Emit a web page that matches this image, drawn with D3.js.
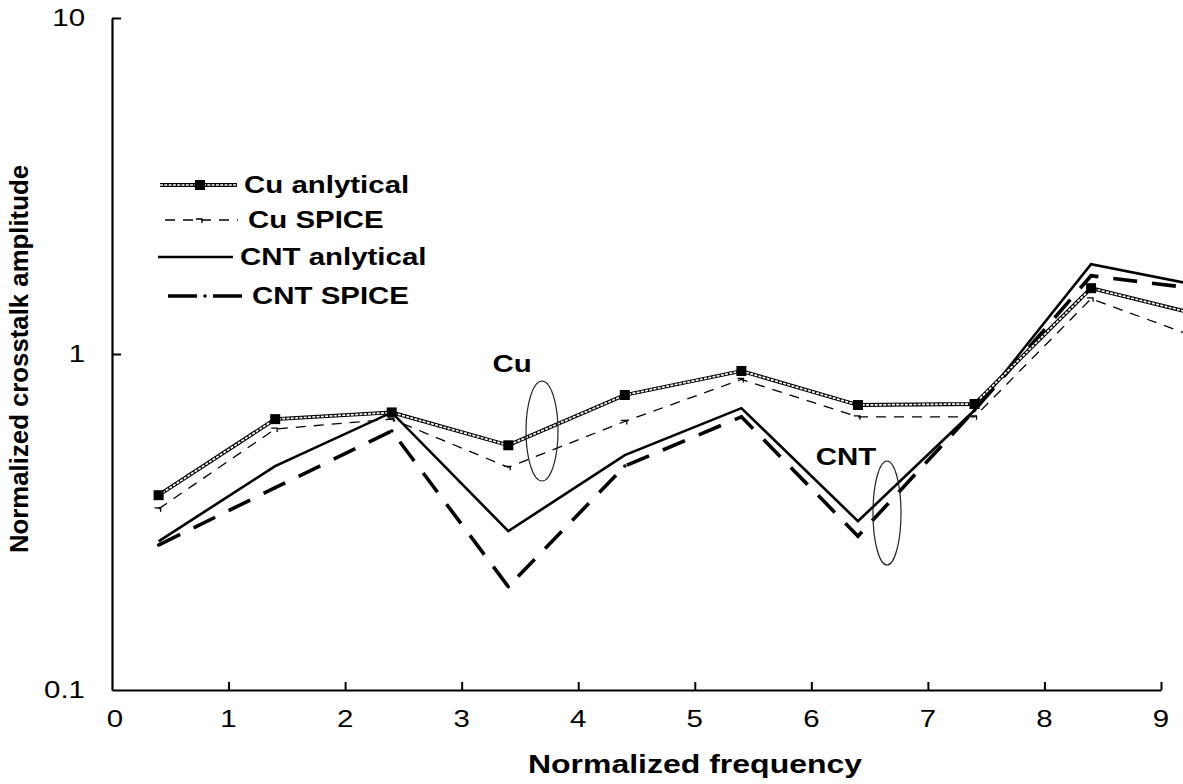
<!DOCTYPE html>
<html>
<head>
<meta charset="utf-8">
<script src="https://cdn.jsdelivr.net/npm/d3@7"></script>
<style>
  html, body { margin: 0; padding: 0; background: #fff; }
  svg { display: block; font-family: "Liberation Sans", Arial, sans-serif; }
</style>
</head>
<body>
<svg id="chart" width="1183" height="784"></svg>
<script>
// Normalized frequency of each sample point
const freq = [0.4, 1.4, 2.4, 3.4, 4.4, 5.4, 6.4, 7.4, 8.4, 9.4];

// Normalized crosstalk amplitude per series
const cuAnalytical  = [0.38, 0.64, 0.67, 0.535, 0.755, 0.89, 0.705, 0.71, 1.57, 1.29];
const cuSpice       = [0.346, 0.598, 0.64, 0.46, 0.63, 0.84, 0.65, 0.65, 1.46, 1.09];
const cntAnalytical = [0.277, 0.464, 0.67, 0.297, 0.50, 0.69, 0.318, 0.68, 1.85, 1.58];
const cntSpice      = [0.27, 0.40, 0.59, 0.203, 0.464, 0.65, 0.287, 0.68, 1.71, 1.55];

const seriesNames = ["Cu anlytical", "Cu SPICE", "CNT anlytical", "CNT SPICE"];
const xTickValues = [0, 1, 2, 3, 4, 5, 6, 7, 8, 9];
const yTickValues = [0.1, 1, 10];
const yTickLabels = ["0.1", "1", "10"];
const xTitle = "Normalized frequency";
const yTitle = "Normalized crosstalk amplitude";
const groupLabels = ["Cu", "CNT"];

const svg = d3.select("#chart");
const STRETCH = 1.28; // wide lettering

const x = d3.scaleLinear().domain([0, 9]).range([112, 1161]);
const y = d3.scaleLog().domain([0.1, 10]).range([690, 18]);

// Horizontally widened text placed at (px, py)
function wideText(px, py, str, opts) {
  const g = svg.append("g")
    .attr("transform", `translate(${px},${py}) scale(${STRETCH},1)`);
  g.append("text")
    .attr("x", 0).attr("y", 0)
    .attr("text-anchor", opts.anchor || "start")
    .attr("font-size", opts.size)
    .attr("font-weight", opts.weight || "normal")
    .attr("fill", "#000")
    .text(str);
  return g;
}

// ---- axes ----
const xAxis = d3.axisBottom(x).tickValues(xTickValues.slice(1)).tickSize(-8).tickSizeOuter(0).tickFormat("");
const yAxis = d3.axisLeft(y).tickValues(yTickValues.slice(1)).tickSize(-9).tickSizeOuter(0).tickFormat("");

const gx = svg.append("g").attr("transform", "translate(0,690)").call(xAxis);
const gy = svg.append("g").attr("transform", "translate(112,0)").call(yAxis);
[gx, gy].forEach(g => {
  g.select(".domain").attr("stroke", "#000").attr("stroke-width", 2.2);
  g.selectAll(".tick line").attr("stroke", "#000").attr("stroke-width", 2);
});

xTickValues.forEach(v => wideText(x(v) + (v === 0 ? 3 : 0), 727, String(v), { anchor: "middle", size: 23 }));
yTickValues.forEach((v, i) => wideText(85, y(v) + 8, yTickLabels[i], { anchor: "end", size: 23 }));

wideText(695, 773, xTitle, { anchor: "middle", size: 25, weight: "bold" });
svg.append("text")
  .attr("transform", "translate(28,359) rotate(-90)")
  .attr("text-anchor", "middle")
  .attr("font-size", 25)
  .attr("font-weight", "bold")
  .attr("textLength", 388)
  .attr("lengthAdjust", "spacingAndGlyphs")
  .text(yTitle);

// ---- series styles ----
const line = d3.line().x((d, i) => x(freq[i])).y(d => y(d));

function chainPath(sel, dAttr) {
  sel.append("path").attr("d", dAttr).attr("fill", "none")
    .attr("stroke", "#000").attr("stroke-width", 3.8).attr("stroke-linejoin", "round");
  sel.append("path").attr("d", dAttr).attr("fill", "none")
    .attr("stroke", "#fff").attr("stroke-width", 1.7).attr("stroke-dasharray", "3,1.3");
}

const plot = svg.append("g");

// CNT SPICE: heavy dashes
plot.append("path").attr("d", line(cntSpice)).attr("fill", "none")
  .attr("stroke", "#000").attr("stroke-width", 3.6).attr("stroke-dasharray", "24,15");
plot.selectAll(".cntSpiceDot").data(cntSpice).join("circle")
  .attr("cx", (d, i) => x(freq[i])).attr("cy", d => y(d)).attr("r", 1.8).attr("fill", "#000");

// CNT analytical: solid
plot.append("path").attr("d", line(cntAnalytical)).attr("fill", "none")
  .attr("stroke", "#000").attr("stroke-width", 2.6).attr("stroke-linejoin", "miter");

// Cu SPICE: thin dashes with small hooked markers
plot.append("path").attr("d", line(cuSpice)).attr("fill", "none")
  .attr("stroke", "#000").attr("stroke-width", 1.3).attr("stroke-dasharray", "10,8");
plot.selectAll(".cuSpiceMark").data(cuSpice).join("path")
  .attr("transform", (d, i) => `translate(${x(freq[i])},${y(d)})`)
  .attr("d", "M-4,-1 H2 V3").attr("fill", "none").attr("stroke", "#000").attr("stroke-width", 1.3);

// Cu analytical: chain line with square markers
const cuG = plot.append("g");
chainPath(cuG, line(cuAnalytical));
cuG.selectAll("rect").data(cuAnalytical).join("rect")
  .attr("x", (d, i) => x(freq[i]) - 5).attr("y", d => y(d) - 5)
  .attr("width", 10).attr("height", 10).attr("fill", "#000");

// ---- group annotations ----
wideText(512, 372, groupLabels[0], { anchor: "middle", size: 23, weight: "bold" });
svg.append("ellipse").attr("cx", 542).attr("cy", 431).attr("rx", 16).attr("ry", 50)
  .attr("fill", "none").attr("stroke", "#222").attr("stroke-width", 1.2);
wideText(846, 465, groupLabels[1], { anchor: "middle", size: 23, weight: "bold" });
svg.append("ellipse").attr("cx", 887).attr("cy", 513).attr("rx", 14).attr("ry", 52)
  .attr("fill", "none").attr("stroke", "#222").attr("stroke-width", 1.2);

// ---- legend ----
const legendRows = [185, 220, 257, 296];
const lg = svg.append("g");
// Cu analytical sample
chainPath(lg, `M160,${legendRows[0]} H237`);
lg.append("rect").attr("x", 195).attr("y", legendRows[0] - 5).attr("width", 10).attr("height", 10).attr("fill", "#000");
// Cu SPICE sample
lg.append("path").attr("d", `M165,${legendRows[1]} H238`).attr("stroke", "#000")
  .attr("stroke-width", 1.3).attr("stroke-dasharray", "10,8");
lg.append("path").attr("transform", `translate(200,${legendRows[1]})`)
  .attr("d", "M-4,-1 H2 V3").attr("fill", "none").attr("stroke", "#000").attr("stroke-width", 1.3);
// CNT analytical sample
lg.append("path").attr("d", `M158,${legendRows[2]} H233`).attr("stroke", "#000").attr("stroke-width", 2.6);
// CNT SPICE sample
lg.append("path").attr("d", `M168,${legendRows[3]} H242`).attr("stroke", "#000")
  .attr("stroke-width", 3.6).attr("stroke-dasharray", "29,16");
lg.append("circle").attr("cx", 205).attr("cy", legendRows[3]).attr("r", 1.8).attr("fill", "#000");

const legendTextX = [244, 248, 240, 252];
seriesNames.forEach((name, i) =>
  wideText(legendTextX[i], legendRows[i] + 8, name, { size: 23, weight: "bold" }));
</script>
</body>
</html>
